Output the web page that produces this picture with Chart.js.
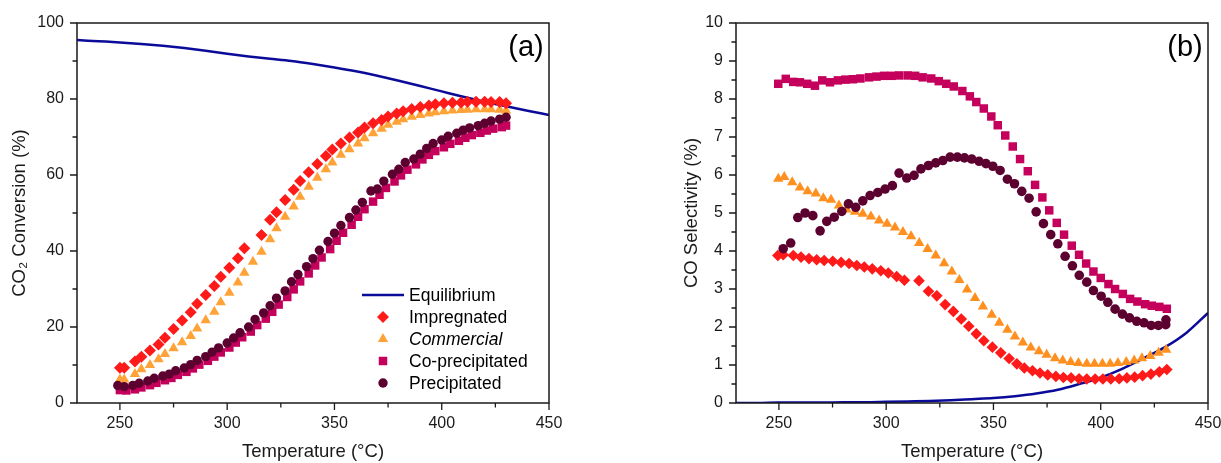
<!DOCTYPE html>
<html>
<head>
<meta charset="utf-8">
<script src="https://cdn.jsdelivr.net/npm/chart.js@4.4.1/dist/chart.umd.min.js"></script>
<style>
  html, body { margin: 0; padding: 0; background: #fff; overflow: hidden; }
  #wrap { position: relative; width: 1221px; height: 463px; overflow: hidden; }
  canvas { position: absolute; top: 0; }
  #convChart { left: 0; }
  #selChart { left: 620px; }
</style>
</head>
<body>
<div id="wrap">
  <canvas id="convChart" width="620" height="463"></canvas>
  <canvas id="selChart" width="620" height="463"></canvas>
</div>
<script>
const FONT = '"Liberation Sans", Arial, sans-serif'
const INK = '#1a1a1a'
const NAVY = '#0b0b99'

// tick labels
const xLabels = [250, 300, 350, 400, 450]
const yLabelsA = [0, 20, 40, 60, 80, 100]
const yLabelsB = [0, 1, 2, 3, 4, 5, 6, 7, 8, 9, 10]

// ---- (a) CO2 conversion (%) ----
const eqTempA = [230, 240, 250, 260, 270, 280, 290, 300, 310, 320, 330, 340, 350, 360, 370, 380, 390, 400, 410, 420, 430, 440, 450]
const eqConvA = [95.5, 95.2, 94.9, 94.5, 94.0, 93.4, 92.7, 91.9, 91.2, 90.6, 90.0, 89.2, 88.3, 87.3, 86.1, 84.8, 83.4, 82.0, 80.6, 79.3, 78.1, 76.9, 75.8]

// impregnated + commercial were logged at the same temperatures
const tempsA = [250, 252, 257, 260, 264, 268, 271, 275, 279, 283, 286, 290, 294, 297, 301, 305, 308, 312, 316, 320,
  323, 327, 331, 334, 338, 342, 346, 349, 353, 357, 361, 364, 368, 372, 375, 379, 382, 386, 390, 394,
  397, 401, 405, 409, 412, 416, 420, 423, 427, 430]
const impregConv = [9.3, 9.3, 10.9, 12.2, 13.8, 15.4, 17.2, 19.5, 21.7, 23.9, 26.1, 28.4, 30.8, 33.2, 35.6, 38.1, 40.7, null, 44.2, 48.2,
  50.2, 53.4, 56.1, 58.4, 60.7, 62.9, 65.0, 66.7, 68.3, 69.9, 71.2, 72.5, 73.6, 74.5, 75.4, 76.2, 76.8, 77.4, 77.9, 78.3,
  78.6, 78.9, 79.0, 79.1, 79.3, 79.3, 79.3, 79.2, 79.2, 78.9]
const commConv = [6.2, 6.2, 7.6, 8.9, 10.0, 11.5, 12.9, 14.4, 16.0, 17.6, 19.6, 21.8, 24.0, 26.5, 29.0, 31.7, 34.3, 37.2, 39.8, 43.1,
  46.0, 49.0, 51.7, 54.3, 56.9, 59.3, 61.5, 63.3, 65.3, 66.8, 68.3, 69.7, 71.0, 72.2, 73.2, 74.0, 74.7, 75.3, 75.8, 76.2,
  76.5, 76.8, 77.0, 77.1, 77.2, 77.3, 77.3, 77.3, 77.2, 76.9]

const coprecTempA = [250, 253, 257, 260, 264, 267, 271, 274, 277, 281, 284, 287, 291, 294, 297, 301, 304, 307, 311, 314,
  318, 321, 324, 328, 331, 334, 338, 341, 344, 348, 351, 354, 358, 361, 364, 368, 371, 374, 378, 381,
  384, 388, 391, 394, 397, 401, 404, 408, 411, 414, 418, 421, 424, 428, 430]
const coprecConv = [3.4, 3.3, 3.6, 4.1, 4.7, 5.3, 6.0, 6.6, 7.4, 8.2, 9.1, 10.1, 11.1, 12.2, 13.3, 14.6, 15.9, 17.3, 18.8, 20.5,
  22.2, 24.0, 25.9, 27.9, 29.9, 32.0, 34.1, 36.2, 38.3, 40.5, 42.7, 44.8, 46.9, 49.0, 51.0, 53.0, 54.8, 56.6, 58.3, 59.9,
  61.4, 62.8, 64.1, 65.3, 66.3, 67.3, 68.2, 69.0, 69.8, 70.5, 71.1, 71.7, 72.2, 72.6, 73.0]

const precipTempA = [249, 252, 256, 259, 263, 266, 270, 273, 276, 280, 283, 286, 290, 293, 296, 300, 303, 306, 310, 313,
  317, 320, 323, 327, 330, 333, 337, 340, 343, 347, 350, 353, 357, 360, 363, 367, 370, 373, 377, 380,
  383, 387, 390, 393, 396, 400, 403, 407, 410, 413, 417, 420, 423, 427, 430]
const precipConv = [4.6, 4.3, 4.6, 5.2, 5.8, 6.5, 7.1, 7.6, 8.5, 9.2, 10.1, 11.2, 12.2, 13.4, 14.5, 15.8, 17.1, 18.5, 20.0, 22.0,
  23.7, 25.6, 27.6, 29.5, 31.9, 33.8, 35.9, 38.0, 40.2, 42.5, 44.7, 46.7, 48.8, 50.8, 52.8, 55.8, 56.3, 58.4, 60.2, 61.5,
  63.3, 64.2, 65.5, 67.0, 68.3, 69.2, 70.2, 71.0, 71.8, 72.4, 73.0, 73.6, 74.2, 74.7, 75.2]

// ---- (b) CO selectivity (%) ----
const eqTempB = [230, 240, 250, 260, 270, 280, 290, 300, 310, 320, 330, 340, 350, 360, 370, 380, 390, 400, 410, 420, 430, 440, 450]
const eqSelB = [0.00, 0.00, 0.01, 0.01, 0.01, 0.02, 0.02, 0.03, 0.04, 0.05, 0.07, 0.10, 0.13, 0.18, 0.25, 0.35, 0.50, 0.67, 0.90, 1.18, 1.47, 1.85, 2.37]

const impregTempB = [249.5, 252, 256.7, 260.3, 264, 267.6, 271.1, 275.1, 279, 282.7, 286.3, 289.8, 293.5, 297.5, 301, 304.9, 308.5, 315.3, 319.7, 323.6,
  327.5, 331.3, 335, 338.5, 342, 345.5, 349.5, 353.4, 357.3, 360.9, 364.4, 368.2, 371.7, 375.3, 379.1, 382.6, 386.2, 389.9, 393.5, 397.4,
  401, 404.7, 408.6, 412.2, 415.8, 419.5, 423.4, 427.3, 430.8]
const impregSel = [3.88, 3.90, 3.88, 3.84, 3.80, 3.77, 3.75, 3.73, 3.70, 3.67, 3.62, 3.58, 3.53, 3.48, 3.42, 3.33, 3.23, 3.22, 2.94, 2.82,
  2.59, 2.41, 2.21, 2.02, 1.82, 1.64, 1.47, 1.32, 1.17, 1.03, 0.92, 0.85, 0.79, 0.74, 0.70, 0.67, 0.66, 0.64, 0.63, 0.63,
  0.63, 0.63, 0.64, 0.66, 0.68, 0.72, 0.76, 0.82, 0.88]

const commTempB = [249.7, 252.5, 256.2, 259.8, 263.4, 267.2, 270.7, 274.3, 278, 281.6, 285.5, 289.1, 292.9, 296.7, 300.4, 304.1, 307.8, 311.6, 315.4, 319.3,
  323.1, 327, 330.6, 334.1, 337.7, 341.4, 345.1, 349.2, 352.7, 356.5, 360, 363.7, 367.4, 371.2, 374.8, 378.7, 382.3, 386, 389.6, 393.5,
  397.1, 400.8, 404.4, 408, 411.9, 415.6, 419.2, 423.1, 427, 430.5]
const commSel = [5.90, 5.95, 5.81, 5.67, 5.57, 5.51, 5.39, 5.35, 5.20, 5.09, 5.03, 4.98, 4.91, 4.80, 4.72, 4.62, 4.50, 4.39, 4.21, 4.05,
  3.88, 3.68, 3.46, 3.24, 2.99, 2.76, 2.54, 2.32, 2.11, 1.93, 1.75, 1.59, 1.46, 1.36, 1.27, 1.18, 1.12, 1.08, 1.05, 1.03,
  1.03, 1.03, 1.03, 1.05, 1.08, 1.12, 1.18, 1.24, 1.32, 1.40]

const coprecTempB = [249.7, 253.2, 256.7, 259.8, 263.2, 266.8, 270.2, 273.8, 277.5, 281, 284.5, 288, 292, 295.5, 299, 302.5, 306, 310, 313.5, 317,
  321, 324.5, 328, 331.5, 335.5, 339, 342, 345.5, 349, 352, 355.5, 359, 362.4, 366, 369.4, 372.8, 376, 379.5, 382.9, 386.5,
  389.9, 393.2, 396.6, 400, 403.6, 406.7, 410.3, 413.7, 417.1, 420.7, 423.8, 427.3, 430.8]
const coprecSel = [8.40, 8.53, 8.45, 8.44, 8.40, 8.35, 8.49, 8.44, 8.49, 8.51, 8.52, 8.54, 8.57, 8.59, 8.61, 8.61, 8.62, 8.62, 8.61, 8.57,
  8.54, 8.47, 8.40, 8.33, 8.21, 8.07, 7.92, 7.75, 7.54, 7.31, 7.04, 6.75, 6.42, 6.10, 5.74, 5.41, 5.07, 4.74, 4.43, 4.14,
  3.90, 3.67, 3.46, 3.29, 3.13, 3.00, 2.87, 2.74, 2.67, 2.60, 2.56, 2.53, 2.48]

const precipTempB = [252, 255.5, 258.8, 262.2, 265.8, 269.2, 272.3, 275.8, 279.3, 282.4, 285.8, 289.1, 292.5, 296.1, 299.5, 302.9, 306, 309.6, 313, 316.2,
  319.7, 323.1, 326.4, 329.8, 333.2, 336.5, 339.9, 343.3, 346.5, 349.7, 353.1, 356.5, 359.8, 363.2, 366.6, 369.9, 373.3, 376.7, 380, 383.4,
  386.8, 390, 393.5, 396.6, 400.2, 403.3, 406.7, 410.1, 413.4, 416.8, 420.2, 423.5, 426.9, 430.3, 430.4]
const precipSel = [4.06, 4.21, 4.88, 5.00, 4.93, 4.53, 4.78, 4.89, 5.04, 5.24, 5.15, 5.32, 5.46, 5.54, 5.63, 5.72, 6.05, 5.92, 5.99, 6.16,
  6.25, 6.32, 6.38, 6.47, 6.47, 6.45, 6.42, 6.36, 6.30, 6.23, 6.12, 5.89, 5.77, 5.57, 5.39, 5.03, 4.72, 4.43, 4.19, 3.86,
  3.61, 3.36, 3.18, 2.96, 2.81, 2.65, 2.47, 2.34, 2.24, 2.15, 2.11, 2.04, 2.04, 2.06, 2.19]

Chart.defaults.font.family = FONT
Chart.defaults.color = INK

function pts(xs, ys) {
  return xs.map((x, i) => ({ x, y: ys[i] })).filter(p => p.y !== null)
}

function markers(label, xs, ys, color, style, radius, order, italic) {
  return {
    label, data: pts(xs, ys), showLine: false,
    pointStyle: style, pointRadius: radius, pointHoverRadius: radius,
    backgroundColor: color, borderColor: color, pointBorderWidth: 0,
    order, italic: !!italic
  }
}

function curve(label, xs, ys) {
  return {
    label, data: pts(xs, ys), showLine: true, pointRadius: 0,
    borderColor: NAVY, backgroundColor: NAVY, borderWidth: 2.5,
    cubicInterpolationMode: 'monotone', order: 9
  }
}

// box around the plot, outward major/minor ticks and the panel letter
const frame = {
  id: 'frame',
  afterDraw(chart, args, opts) {
    const { ctx, chartArea: a, scales } = chart
    ctx.save()
    ctx.strokeStyle = INK
    ctx.lineWidth = 1.3
    ctx.beginPath()
    scales.x.ticks.forEach(t => {
      if (t.value % 25 !== 0) return
      const px = scales.x.getPixelForValue(t.value)
      const len = xLabels.includes(t.value) ? 7 : 4.5
      ctx.moveTo(px, a.bottom)
      ctx.lineTo(px, a.bottom + len)
    })
    scales.y.ticks.forEach(t => {
      const py = scales.y.getPixelForValue(t.value)
      const len = opts.yMajor.includes(t.value) ? 7 : 4.5
      ctx.moveTo(a.left, py)
      ctx.lineTo(a.left - len, py)
    })
    ctx.stroke()
    ctx.lineWidth = 1.5
    ctx.strokeRect(a.left, a.top, a.right - a.left, a.bottom - a.top)

    ctx.fillStyle = '#000'
    ctx.font = `29px ${FONT}`
    ctx.textAlign = 'center'
    ctx.textBaseline = 'middle'
    ctx.fillText(opts.tag, a.right - 23, a.top + 25)
    ctx.restore()
  }
}

// legend box inside panel (a)
const insideLegend = {
  id: 'insideLegend',
  afterDraw(chart, args, opts) {
    if (!opts.show) return
    const { ctx, chartArea: a } = chart
    ctx.save()
    ctx.textAlign = 'left'
    ctx.textBaseline = 'middle'
    chart.data.datasets.forEach((ds, i) => {
      const y = a.bottom - 108 + 22 * i
      const sx = a.left + 306
      if (ds.showLine) {
        ctx.strokeStyle = ds.borderColor
        ctx.lineWidth = ds.borderWidth
        ctx.beginPath()
        ctx.moveTo(a.left + 285, y)
        ctx.lineTo(a.left + 327, y)
        ctx.stroke()
      } else {
        ctx.fillStyle = ds.backgroundColor
        Chart.helpers.drawPoint(ctx, { pointStyle: ds.pointStyle, radius: ds.pointRadius, rotation: 0, borderWidth: 0 }, sx, y)
      }
      ctx.fillStyle = '#000'
      ctx.font = `${ds.italic ? 'italic ' : ''}17.5px ${FONT}`
      ctx.fillText(ds.label, a.left + 332, y + 1)
    })
    ctx.restore()
  }
}

function scalesFor(yMax, yStep, yLabels, yTitle, yWidth) {
  return {
    x: {
      type: 'linear', min: 230, max: 450,
      grid: { display: false, drawTicks: false, tickLength: 0 },
      border: { display: false },
      ticks: {
        stepSize: 25, autoSkip: false, maxRotation: 0, padding: 11,
        color: INK, font: { size: 16 },
        callback: v => xLabels.includes(v) ? String(v) : ''
      },
      title: { display: true, text: 'Temperature (°C)', color: INK, font: { size: 18.5 }, padding: { top: 0, bottom: 0 } },
      afterFit: s => { s.height = 60 }
    },
    y: {
      type: 'linear', min: 0, max: yMax,
      grid: { display: false, drawTicks: false, tickLength: 0 },
      border: { display: false },
      ticks: {
        stepSize: yStep, autoSkip: false, padding: 13,
        color: INK, font: { size: 16 },
        callback: v => yLabels.includes(v) ? String(v) : ''
      },
      title: { display: true, text: yTitle, color: INK, font: { size: 18.5 }, padding: { top: 0, bottom: 0 } },
      afterFit: s => { s.width = yWidth }
    }
  }
}

function baseOptions(pad, scales, frameOpts, legendOpts) {
  return {
    responsive: false, animation: false, events: [],
    layout: { padding: pad },
    scales,
    plugins: {
      legend: { display: false }, tooltip: { enabled: false },
      frame: frameOpts, insideLegend: legendOpts
    }
  }
}

new Chart(document.getElementById('convChart'), {
  type: 'scatter',
  data: {
    datasets: [
      curve('Equilibrium', eqTempA, eqConvA),
      markers('Impregnated', tempsA, impregConv, '#ff1a1a', 'rectRot', 6, 2),
      markers('Commercial', tempsA, commConv, '#ffa339', 'triangle', 6, 3, true),
      markers('Co-precipitated', coprecTempA, coprecConv, '#c4005c', 'rect', 6, 4),
      markers('Precipitated', precipTempA, precipConv, '#5c0030', 'circle', 4.7, 1)
    ]
  },
  options: baseOptions(
    { left: 8.5, right: 71, top: 23, bottom: 0 },
    scalesFor(100, 10, yLabelsA, 'CO₂ Conversion (%)', 68.5),
    { tag: '(a)', yMajor: yLabelsA },
    { show: true }
  ),
  plugins: [frame, insideLegend]
})

// panel (b) canvas runs past the page edge so the last x label is cut like the plot box
new Chart(document.getElementById('selChart'), {
  type: 'scatter',
  data: {
    datasets: [
      curve('Equilibrium', eqTempB, eqSelB),
      markers('Impregnated', impregTempB, impregSel, '#ff1a1a', 'rectRot', 5.8, 2),
      markers('Commercial', commTempB, commSel, '#ff9020', 'triangle', 6, 3, true),
      markers('Co-precipitated', coprecTempB, coprecSel, '#c4005c', 'rect', 6, 4),
      markers('Precipitated', precipTempB, precipSel, '#5c0030', 'circle', 4.8, 1)
    ]
  },
  options: baseOptions(
    { left: 60.4, right: 32, top: 23, bottom: 0 },
    scalesFor(10, 0.5, yLabelsB, 'CO Selectivity (%)', 55.6),
    { tag: '(b)', yMajor: yLabelsB },
    { show: false }
  ),
  plugins: [frame, insideLegend]
})
</script>
</body>
</html>
